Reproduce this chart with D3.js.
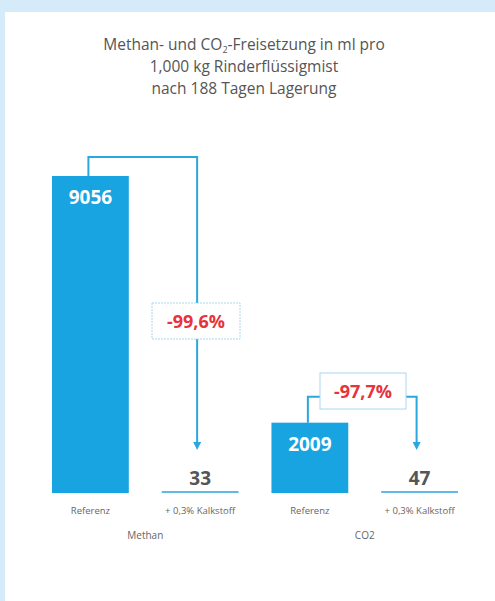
<!DOCTYPE html>
<html><head><meta charset="utf-8">
<script src="https://cdn.jsdelivr.net/npm/d3@7"></script>
<style>
html,body{margin:0;padding:0;background:#fff;overflow:hidden;}
svg{display:block;}
</style></head>
<body>
<script>
const groups = ["Methan", "CO2"];
const conditions = ["Referenz", "+ 0,3% Kalkstoff"];
const methanValues = [9056, 33];
const co2Values = [2009, 47];
const reductions = ["-99,6%", "-97,7%"];
const titleLines = ["Methan- und CO|2|-Freisetzung in ml pro", "1,000 kg Rinderflüssigmist", "nach 188 Tagen Lagerung"];

const W = 495, H = 601;
const font = "'Open Sans', 'Noto Sans', sans-serif";
const blue = "#18a4e1", lineBlue = "#2aa7de", red = "#e8323c", grey = "#555";

const svg = d3.select("body").append("svg").attr("width", W).attr("height", H);
svg.append("rect").attr("x", 0).attr("y", 0).attr("width", W).attr("height", H).attr("fill", "#fff");
svg.append("rect").attr("x", 0).attr("y", 0).attr("width", W).attr("height", 12).attr("fill", "#d6ebfa");
svg.append("rect").attr("x", 0).attr("y", 0).attr("width", 5).attr("height", H).attr("fill", "#d6ebfa");

const data = [];
groups.forEach((g, gi) => {
  const vals = gi === 0 ? methanValues : co2Values;
  conditions.forEach((c, ci) => data.push({group: g, cond: c, value: vals[ci], key: g + "|" + c}));
});

const x = d3.scaleBand().domain(data.map(d => d.key)).range([52, 458]).paddingInner(0.3).paddingOuter(0);
const y = d3.scaleLinear().domain([0, 9056]).range([493, 176]);

// title (one text element per line)
titleLines.forEach((line, i) => {
  const t = svg.append("text").attr("text-anchor", "middle").attr("font-family", font)
    .attr("font-size", 15.5).attr("fill", grey).attr("x", 244).attr("y", 50 + i * 22);
  const parts = line.split("|");
  parts.forEach((p, pi) => {
    if (pi === 1) {
      t.append("tspan").attr("font-size", 9).attr("dy", 2.5).text(p);
    } else if (pi === 2) {
      t.append("tspan").attr("dy", -2.5).text(p);
    } else t.append("tspan").text(p);
  });
});

// bars
svg.selectAll("rect.bar").data(data).join("rect").attr("class", "bar")
  .attr("x", d => x(d.key)).attr("width", x.bandwidth())
  .attr("y", d => Math.min(y(d.value), y(0) - 2))
  .attr("height", d => Math.max(y(0) - y(d.value), 2))
  .attr("fill", d => d.cond === conditions[0] ? blue : "#5dbbe6");

// value labels
svg.selectAll("text.val").data(data).join("text").attr("class", "val")
  .attr("x", d => x(d.key) + x.bandwidth() / 2)
  .attr("y", d => d.cond === conditions[0] ? y(d.value) + 28 : y(0) - 8)
  .attr("text-anchor", "middle").attr("font-family", font).attr("font-weight", "bold")
  .attr("font-size", 19)
  .attr("fill", d => d.cond === conditions[0] ? "#fff" : "#555")
  .text(d => d.value);

// condition labels
svg.selectAll("text.cond").data(data).join("text").attr("class", "cond")
  .attr("x", d => x(d.key) + x.bandwidth() / 2).attr("y", 514)
  .attr("text-anchor", "middle").attr("font-family", font).attr("font-size", 9.5)
  .attr("fill", "#666").text(d => d.cond);

// group labels
groups.forEach(g => {
  const a = x(g + "|" + conditions[0]), b = x(g + "|" + conditions[1]) + x.bandwidth();
  svg.append("text").attr("x", (a + b) / 2).attr("y", 539).attr("text-anchor", "middle")
    .attr("font-family", font).attr("font-size", 10).attr("fill", "#666").text(g);
});

// reduction brackets
svg.append("defs").append("marker").attr("id", "arr").attr("viewBox", "0 0 10 10")
  .attr("refX", 5).attr("refY", 5).attr("markerWidth", 4).attr("markerHeight", 4).attr("orient", "auto")
  .append("path").attr("d", "M0,0 L10,5 L0,10 z").attr("fill", lineBlue);

const brackets = [
  {g: groups[0], topOff: 19, box: {cx: 196, cy: 321, w: 88, h: 36}},
  {g: groups[1], topOff: 26, box: {cx: 363, cy: 391, w: 86, h: 36}}
];
brackets.forEach((b, i) => {
  const vals = i === 0 ? methanValues : co2Values;
  const x0 = x(b.g + "|" + conditions[0]) + x.bandwidth() / 2 - 2;
  const x1 = x(b.g + "|" + conditions[1]) + x.bandwidth() / 2 - 3;
  const yTop = y(vals[0]) - b.topOff;
  const yEnd = y(0) - 47;
  svg.append("path")
    .attr("d", `M${x0},${y(vals[0])} V${yTop} H${x1} V${yEnd}`)
    .attr("fill", "none").attr("stroke", lineBlue).attr("stroke-width", 2)
    .attr("marker-end", "url(#arr)");
  svg.append("rect").attr("x", b.box.cx - b.box.w / 2).attr("y", b.box.cy - b.box.h / 2)
    .attr("width", b.box.w).attr("height", b.box.h).attr("fill", "#fff")
    .attr("stroke", "#a9d8ef").attr("stroke-width", 1).attr("stroke-dasharray", i === 0 ? "2,1" : null);
  svg.append("text").attr("x", b.box.cx).attr("y", b.box.cy + 6.5).attr("text-anchor", "middle")
    .attr("font-family", font).attr("font-weight", "bold").attr("font-size", 18)
    .attr("fill", red).text(reductions[i]);
});
</script>
</body></html>
